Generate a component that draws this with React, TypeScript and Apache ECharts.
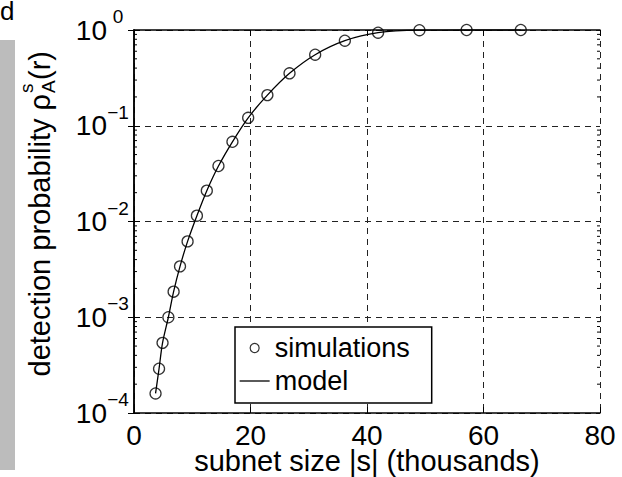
import React, { useEffect, useRef } from "react";
import * as echarts from "echarts";

// subnet size |s| (thousands)
const simX = [3.7, 4.3, 4.9, 5.9, 6.8, 7.9, 9.2, 10.8, 12.5, 14.5, 16.9, 19.6, 22.9, 26.7, 31.1, 36.2, 41.9, 49.0, 57.1, 66.4];
// detection probability
const simY = [1.6e-4, 2.9e-4, 5.4e-4, 1.0e-3, 1.85e-3, 3.4e-3, 6.2e-3, 0.0115, 0.021, 0.038, 0.068, 0.121, 0.209, 0.353, 0.552, 0.773, 0.937, 0.995, 1.0, 1.0];

const modelX = [3.7, 4.3, 4.9, 5.9, 6.8, 7.9, 9.2, 10.8, 12.5, 14.5, 16.9, 19.6, 22.9, 26.7, 31.1, 36.2, 41.9, 49.0, 57.1, 66.4];
const modelY = [1.6e-4, 2.9e-4, 5.4e-4, 1.0e-3, 1.85e-3, 3.4e-3, 6.2e-3, 0.0115, 0.021, 0.038, 0.068, 0.121, 0.209, 0.353, 0.552, 0.773, 0.937, 0.995, 1.0, 1.0];

const decades = [1e-4, 1e-3, 1e-2, 1e-1];
const mantissas = [2, 3, 4, 5, 6, 7, 8, 9];

const FONT = "'Liberation Sans', Arial, Helvetica, sans-serif";

export default function App() {
  const ref = useRef<HTMLDivElement>(null);
  useEffect(() => {
    if (!ref.current) return;
    const chart = echarts.init(ref.current, null, { renderer: "svg" });
    const minorTicks: number[][] = [];
    decades.forEach((d) => mantissas.forEach((m) => minorTicks.push([0, m * d])));

    const fmtY = (v: number) => {
      const e = Math.round(Math.log10(v));
      const s = e < 0 ? "\u2212" + -e : String(e);
      return `{b|10}{s|${s}}`;
    };

    const option: any = {
      animation: false,
      backgroundColor: "#ffffff",
      textStyle: { fontFamily: FONT, color: "#000" },
      grid: { left: 134, right: 22, top: 30, bottom: 64, containLabel: false, outerBoundsMode: "none" },
      legend: {
        orient: "vertical",
        left: 235,
        top: 327,
        backgroundColor: "#fff",
        borderColor: "#000",
        borderWidth: 1.5,
        borderRadius: 0,
        padding: [6, 22, 7, 4],
        itemGap: 3,
        itemWidth: 30,
        itemHeight: 9,
        textStyle: { fontSize: 27, color: "#000", fontFamily: FONT, lineHeight: 30 },
        data: [
          { name: "simulations", icon: "circle", itemStyle: { color: "transparent", borderColor: "#000", borderWidth: 1.2 } },
          { name: "model", itemStyle: { opacity: 0 }, lineStyle: { color: "#000", width: 1.3 } },
        ],
      },
      xAxis: [
        {
          type: "value",
          min: 0,
          max: 80,
          interval: 20,
          position: "bottom",
          axisLine: { show: true, lineStyle: { color: "#000", width: 1.5 } },
          axisTick: { show: true, inside: true, length: 6, lineStyle: { color: "#000", width: 1 } },
          axisLabel: { fontSize: 28, lineHeight: 22, color: "#000", margin: 11, fontFamily: FONT },
          splitLine: { show: true, lineStyle: { color: "#222", type: [6, 5], width: 1 } },
          name: "subnet size |s| (thousands)",
          nameLocation: "middle",
          nameGap: 34.5,
          nameMoveOverlap: false,
          nameTextStyle: { fontSize: 29, lineHeight: 26, color: "#000", fontFamily: FONT },
        },
        {
          type: "value",
          min: 0,
          max: 80,
          interval: 20,
          position: "top",
          axisLine: { show: true, lineStyle: { color: "#000", width: 1.5 } },
          axisTick: { show: true, inside: true, length: 6, lineStyle: { color: "#000", width: 1 } },
          axisLabel: { show: false },
          splitLine: { show: false },
        },
      ],
      yAxis: [
        {
          type: "log",
          logBase: 10,
          min: 1e-4,
          max: 1,
          position: "left",
          axisLine: { show: true, lineStyle: { color: "#000", width: 1.5 } },
          axisTick: { show: true, inside: true, length: 6, lineStyle: { color: "#000", width: 1 } },
          axisLabel: {
            margin: 5,
            color: "#000",
            formatter: fmtY,
            padding: [0, 0, 9, 0],
            rich: {
              b: { fontSize: 28, lineHeight: 37, verticalAlign: "bottom", fontFamily: FONT, color: "#000" },
              s: { fontSize: 19, lineHeight: 19, verticalAlign: "top", width: 22, align: "left", fontFamily: FONT, color: "#000" },
            },
          },
          splitLine: { show: true, lineStyle: { color: "#222", type: [6, 5], width: 1 } },
        },
        {
          type: "log",
          logBase: 10,
          min: 1e-4,
          max: 1,
          position: "right",
          axisLine: { show: true, lineStyle: { color: "#000", width: 1.5 } },
          axisTick: { show: true, inside: true, length: 6, lineStyle: { color: "#000", width: 1 } },
          axisLabel: { show: false },
          splitLine: { show: false },
        },
      ],
      graphic: [
        {
          type: "rect",
          shape: { x: 0, y: 40, width: 15, height: 430 },
          style: { fill: "#bcbcbc" },
          silent: true,
        },
        {
          type: "text",
          x: 0,
          y: 22,
          style: { text: "d", fontSize: 26, lineHeight: 22, fontFamily: FONT, fill: "#000", verticalAlign: "bottom" },
          silent: true,
        },
        {
          type: "group",
          x: 50,
          y: 94,
          rotation: Math.PI / 2,
          silent: true,
          children: [
            { type: "text", x: 0, y: -10, style: { text: "detection probability \u03c1", fontSize: 29, fontFamily: FONT, fill: "#000", align: "right", verticalAlign: "middle" } },
            { type: "text", x: 1, y: -24, style: { text: "s", fontSize: 19, fontFamily: FONT, fill: "#000", align: "left", verticalAlign: "middle" } },
            { type: "text", x: 1, y: -2, style: { text: "A", fontSize: 19, fontFamily: FONT, fill: "#000", align: "left", verticalAlign: "middle" } },
            { type: "text", x: 14, y: -10, style: { text: "(r)", fontSize: 29, fontFamily: FONT, fill: "#000", align: "left", verticalAlign: "middle" } },
          ],
        },
      ],
      series: [
        {
          name: "model",
          type: "line",
          xAxisIndex: 0,
          yAxisIndex: 0,
          data: modelX.map((x, i) => [x, modelY[i]]),
          symbol: "none",
          smooth: 0.3,
          lineStyle: { color: "#000", width: 1.3 },
          itemStyle: { color: "#000" },
          z: 3,
        },
        {
          name: "simulations",
          type: "scatter",
          xAxisIndex: 0,
          yAxisIndex: 0,
          data: simX.map((x, i) => [x, simY[i]]),
          symbol: "circle",
          symbolSize: 11,
          itemStyle: { color: "transparent", borderColor: "#000", borderWidth: 1.3 },
          z: 4,
        },
        {
          name: "minorTicks",
          type: "custom",
          xAxisIndex: 0,
          yAxisIndex: 0,
          silent: true,
          data: minorTicks,
          renderItem: (params: any, api: any) => {
            const v = api.value(1);
            const pl = api.coord([0, v]);
            const pr = api.coord([80, v]);
            return {
              type: "group",
              children: [
                { type: "line", shape: { x1: pl[0], y1: pl[1], x2: pl[0] + 3, y2: pl[1] }, style: { stroke: "#000", lineWidth: 1 } },
                { type: "line", shape: { x1: pr[0] - 3, y1: pr[1], x2: pr[0], y2: pr[1] }, style: { stroke: "#000", lineWidth: 1 } },
              ],
            };
          },
          z: 5,
        },
      ],
    };
    chart.setOption(option);
    return () => chart.dispose();
  }, []);
  return (
    <div
      ref={ref}
      style={{ position: "absolute", left: 0, top: 0, width: 622, height: 477 }}
    />
  );
}
